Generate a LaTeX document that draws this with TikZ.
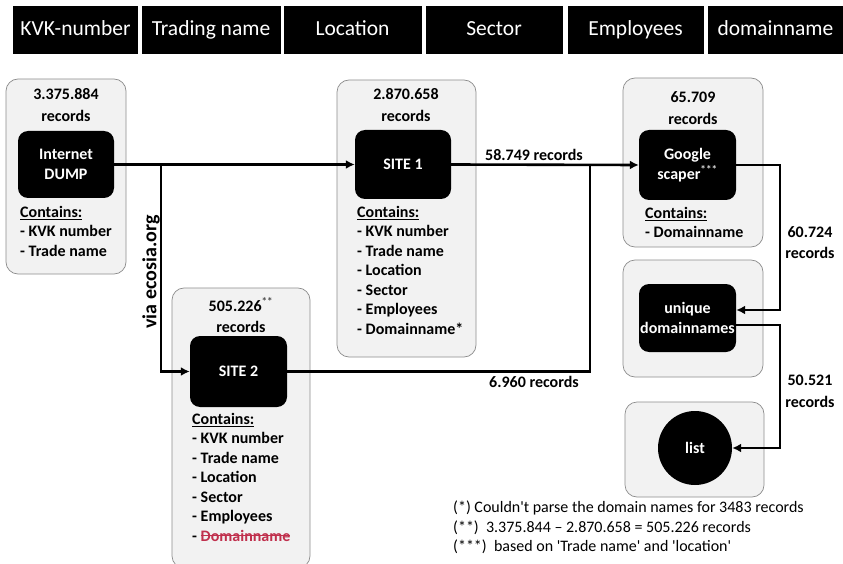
\documentclass[tikz,border=0pt]{standalone}
\usepackage{fontspec}
\setmainfont{Carlito}
\newfontfamily\plainfont{Carlito}
\usetikzlibrary{arrows.meta}
\definecolor{grpfill}{HTML}{F2F2F2}
\definecolor{grpdraw}{HTML}{8C8C8C}
\definecolor{strikered}{HTML}{C0304D}
\newsavebox\strikebox
\newcommand\redstrike[1]{\sbox\strikebox{#1}\rlap{\textcolor{strikered}{\rule[0.3em]{\wd\strikebox}{0.9pt}}}\usebox\strikebox}
\begin{document}
\begin{tikzpicture}[x=1pt,y=-1pt,
  hdr/.style={fill=black,text=white,minimum height=48pt,inner sep=0pt,text height=15pt,text depth=4.5pt,font=\fontsize{21.5}{26}\selectfont},
  grp/.style={draw=grpdraw,fill=grpfill,line width=0.7pt,rounded corners=12pt,inner sep=0pt},
  blk/.style={fill=black,text=white,rounded corners=10pt,inner sep=0pt,align=center,font=\fontsize{16}{20}\selectfont\bfseries},
  lbl/.style={inner sep=0pt,align=center,font=\fontsize{16}{21.5}\selectfont\bfseries},
  lst/.style={inner sep=0pt,align=left,anchor=north west,font=\fontsize{16}{19.45}\selectfont\bfseries},
  wire/.style={line width=2.6pt},
  conn/.style={wire,-{Latex[length=9pt,width=9pt]}}
]
\useasboundingbox (0,0) rectangle (843,564);
% header
\node[hdr,minimum width=125pt] (h1) at (75.5,30) {KVK-number};
\node[hdr,minimum width=139pt] (h2) at (211,30) {Trading name};
\node[hdr,minimum width=138pt] (h3) at (352.5,30) {Location};
\node[hdr,minimum width=137pt] (h4) at (494,30) {Sector};
\node[hdr,minimum width=136pt] (h5) at (635.5,30) {Employees};
\node[hdr,minimum width=135pt] (h6) at (775.5,30) {domainname};
% groups
\node[grp,minimum width=120pt,minimum height=195pt] (gA) at (66,176.5) {};
\node[grp,minimum width=139pt,minimum height=277pt] (gB) at (406.5,218.5) {};
\node[grp,minimum width=140pt,minimum height=169pt] (gC) at (693,162.5) {};
\node[grp,minimum width=140pt,minimum height=117pt] (gD) at (693,318.5) {};
\node[grp,minimum width=139pt,minimum height=95pt] (gE) at (694.5,449.5) {};
\node[grp,minimum width=138pt,minimum height=280pt] (gF) at (241,428) {};
% counts
\node[lbl] (nA) at (66,105) {3.375.884\\records};
\node[lbl] (nB) at (406,105) {2.870.658\\records};
\node[lbl] (nC) at (693,108) {65.709\\records};
\node[lbl] (nF) at (241,315) {505.226\textsuperscript{\textcolor{black!70}{**}}\\records};
% black boxes
\node[blk,minimum width=96pt,minimum height=67pt] (bA) at (66,164.5) {Internet\\DUMP};
\node[blk,minimum width=96pt,minimum height=69pt] (bB) at (403,164.5) {SITE 1};
\node[blk,minimum width=97pt,minimum height=70pt] (bC) at (687.5,165) {Google\\scaper\textsuperscript{\textcolor{black!15}{***}}};
\node[blk,minimum width=97pt,minimum height=68pt] (bD) at (687.5,318) {unique\\domainnames};
\node[blk,circle,minimum size=74pt] (bE) at (695,448) {list};
\node[blk,minimum width=97pt,minimum height=71pt] (bF) at (238.5,371.5) {SITE 2};
% contents
\node[lst] (cA) at (20,206) {\underline{Contains:}\\- KVK number\\- Trade name};
\node[lst] (cB) at (357,206) {\underline{Contains:}\\- KVK number\\- Trade name\\- Location\\- Sector\\- Employees\\- Domainname*};
\node[lst] (cC) at (645,207) {\underline{Contains:}\\- Domainname};
\node[lst] (cF) at (192,413) {\underline{Contains:}\\- KVK number\\- Trade name\\- Location\\- Sector\\- Employees\\- \textcolor{strikered}{\redstrike{Domainname}}};
% connectors
\coordinate (j1) at (161,164.5);
\coordinate (j2) at (590,164.5);
\coordinate (r1) at (780,165);
\coordinate (r2) at (780,325);
\draw[conn] (bA.east) -- (bB.west);
\draw[conn] (j1) |- (bF.west);
\draw[conn] (bB.east) -- (bC.west);
\draw[wire] (bF.east) -| (j2);
\draw[conn] (bC.east) -- (r1) |- ([yshift=8pt]bD.east);
\draw[conn] ([yshift=-7pt]bD.east) -- (r2) |- (bE.east);
% labels
\node[lbl] (l1) at (534,155) {58.749 records};
\node[lbl] (l2) at (534,382) {6.960 records};
\node[lbl] (l3) at (810,242.5) {60.724\\records};
\node[lbl] (l4) at (810,391.5) {50.521\\records};
\node[lbl,rotate=90,font=\fontsize{20}{24}\selectfont\bfseries] (l5) at (151,272) {via ecosia.org};
% footnotes
\node[inner sep=0pt,align=left,anchor=north west,font=\plainfont\fontsize{16}{19.2}\selectfont] (fn) at (453,501)
 {(*) Couldn't parse the domain names for 3483 records\\(**)\ \ 3.375.844 – 2.870.658 = 505.226 records\\(***)\ \ based on 'Trade name' and 'location'};
\end{tikzpicture}
\end{document}
